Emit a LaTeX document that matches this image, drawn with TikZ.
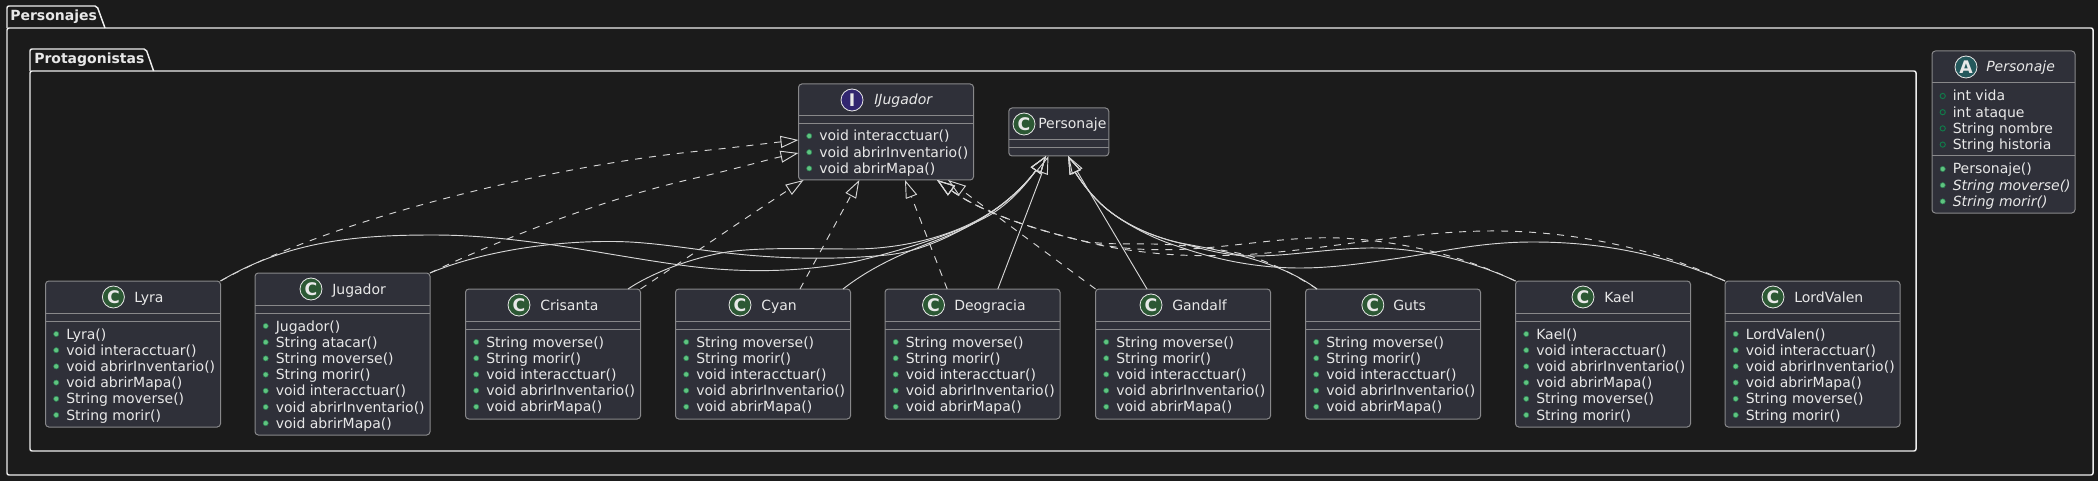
\documentclass[tikz,border=0pt]{standalone}
\usepackage{fontspec}
\setmainfont{DejaVu Sans}
\usetikzlibrary{arrows.meta}
\definecolor{bgcol}{RGB}{27, 27, 27}
\definecolor{boxcol}{RGB}{47, 48, 57}
\definecolor{boxline}{RGB}{136, 136, 138}
\definecolor{pkgline}{RGB}{238, 238, 238}
\definecolor{edgecol}{RGB}{214, 214, 214}
\definecolor{textcol}{RGB}{232, 232, 232}
\definecolor{pubcol}{RGB}{96, 196, 128}
\definecolor{pubedge}{RGB}{44, 128, 84}
\definecolor{attredge}{RGB}{16, 124, 74}
\definecolor{classpot}{RGB}{44, 88, 52}
\definecolor{ifacepot}{RGB}{50, 38, 112}
\definecolor{abstrpot}{RGB}{36, 88, 92}

\newcommand{\memberrows}[5][pubdot]{%
  \foreach \rowtext [count=\rownum from 0] in {#5} {
    \node[memberrow] (#2-row\rownum) at (#3+20.5, #4+5+\rownum*16.2) {\rowtext};
    \path[#1] (#3+10.7, #4+\rownum*16.2) circle (2.6);
  }}

\begin{document}
\begin{tikzpicture}[
    x=0.75pt, y=-0.75pt,
    font=\fontsize{10.5}{12}\selectfont,
    every node/.style={text=textcol},
    pkgbox/.style={draw=pkgline, line width=1.1pt, rounded corners=1.5pt, inner sep=0pt, outer sep=0pt},
    pkgtab/.style={draw=pkgline, line width=1.1pt, rounded corners=1.5pt},
    pkglabel/.style={anchor=base west, inner sep=0pt, font=\fontsize{10.5}{12}\selectfont\bfseries},
    classbox/.style={draw=boxline, fill=boxcol, line width=0.75pt, rounded corners=2.5pt, inner sep=0pt, outer sep=0pt, minimum width=131.25pt},
    classline/.style={draw=boxline, line width=0.75pt},
    classtitle/.style={anchor=base west, inner sep=0pt},
    spot/.style={circle, draw=textcol, line width=0.6pt, minimum size=16.5pt, inner sep=0pt, font=\fontsize{13}{13}\selectfont\bfseries},
    memberrow/.style={anchor=base west, inner sep=0pt},
    pubdot/.style={fill=pubcol, draw=pubedge, line width=0.4pt},
    attrdot/.style={draw=attredge, line width=0.7pt},
    extends/.style={draw=edgecol, line width=0.7pt, -{Triangle[open, length=13.5pt, width=9pt]}},
    implements/.style={extends, dash pattern=on 5.25pt off 5.25pt}
]

% Background and picture size
\fill[bgcol] (0,0) rectangle (2098,481);
\useasboundingbox (0,0) rectangle (2098,481);

% Packages
\node[pkgbox, minimum width=1564.5pt, minimum height=335.25pt] (personajes) at (1050,251.5) {};
\draw[pkgtab] (personajes.north west) -- (7,6) -- (97,6) -- (105,28);
\node[pkglabel] (personajeslabel) at (10,21) {Personajes};

\node[pkgbox, minimum width=1414.5pt, minimum height=285pt] (protagonistas) at (973,261) {};
\draw[pkgtab] (protagonistas.north west) -- (30,49) -- (146,49) -- (153.6,71);
\node[pkglabel] (protagonistaslabel) at (34,64) {Protagonistas};

% Abstract class on the right
\node[classbox, minimum width=107.25pt, minimum height=121.5pt] (abstracto) at (2003.5,132) {};
\node[spot, fill=abstrpot] (abstractospot) at (1966,67) {A};
\node[classtitle] (abstractotitle) at (1986,72) {\itshape Personaje};
\draw[classline] ([yshift=-24pt]abstracto.north west) -- ([yshift=-24pt]abstracto.north east);
\draw[classline] ([yshift=-78.75pt]abstracto.north west) -- ([yshift=-78.75pt]abstracto.north east);
\memberrows[attrdot]{abstractoattr}{1932}{96}{int vida,int ataque,String nombre,String historia}
\memberrows{abstractometh}{1932}{169}{Personaje(),\itshape String moverse(),\itshape String morir()}

% Interface and parent class
\node[classbox, minimum height=72pt] (ijugador) at (886,132) {};
\node[spot, fill=ifacepot] (ijugadorspot) at (852,100) {I};
\node[classtitle] (ijugadortitle) at (874,105) {\itshape IJugador};
\memberrows{ijugador}{798.5}{136}{void interacctuar(),void abrirInventario(),void abrirMapa()}

\node[classbox, minimum width=75pt, minimum height=36pt] (personaje) at (1058.75,132) {};
\node[spot, fill=classpot] (personajespot) at (1024,124) {C};
\node[classtitle] (personajetitle) at (1038,129) {Personaje};

% Classes along the bottom
\node[classbox, minimum height=109.5pt] (lyra) at (133,354) {};
\node[spot, fill=classpot] (lyraspot) at (113.4,297) {C};
\node[classtitle] (lyratitle) at (134,302) {Lyra};
\memberrows{lyra}{45.5}{334}{Lyra(),void interacctuar(),void abrirInventario(),void abrirMapa(),String moverse(),String morir()}

\node[classbox, minimum height=121.5pt] (jugador) at (342.5,354) {};
\node[spot, fill=classpot] (jugadorspot) at (311,289) {C};
\node[classtitle] (jugadortitle) at (332,294) {Jugador};
\memberrows{jugador}{255}{326}{Jugador(),String atacar(),String moverse(),String morir(),void interacctuar(),void abrirInventario(),void abrirMapa()}

\node[classbox, minimum height=97.5pt] (crisanta) at (553,354) {};
\node[spot, fill=classpot] (crisantaspot) at (519,305) {C};
\node[classtitle] (crisantatitle) at (540,310) {Crisanta};
\memberrows{crisanta}{465.5}{342}{String moverse(),String morir(),void interacctuar(),void abrirInventario(),void abrirMapa()}

\node[classbox, minimum height=97.5pt] (cyan) at (763,354) {};
\node[spot, fill=classpot] (cyanspot) at (740,305) {C};
\node[classtitle] (cyantitle) at (761,310) {Cyan};
\memberrows{cyan}{675.5}{342}{String moverse(),String morir(),void interacctuar(),void abrirInventario(),void abrirMapa()}

\node[classbox, minimum height=97.5pt] (deogracia) at (972.5,354) {};
\node[spot, fill=classpot] (deograciaspot) at (933.5,305) {C};
\node[classtitle] (deograciatitle) at (954,310) {Deogracia};
\memberrows{deogracia}{885}{342}{String moverse(),String morir(),void interacctuar(),void abrirInventario(),void abrirMapa()}

\node[classbox, minimum height=97.5pt] (gandalf) at (1183,354) {};
\node[spot, fill=classpot] (gandalfspot) at (1151,305) {C};
\node[classtitle] (gandalftitle) at (1172,310) {Gandalf};
\memberrows{gandalf}{1095.5}{342}{String moverse(),String morir(),void interacctuar(),void abrirInventario(),void abrirMapa()}

\node[classbox, minimum height=97.5pt] (guts) at (1393,354) {};
\node[spot, fill=classpot] (gutsspot) at (1372.8,305) {C};
\node[classtitle] (gutstitle) at (1393,310) {Guts};
\memberrows{guts}{1305.5}{342}{String moverse(),String morir(),void interacctuar(),void abrirInventario(),void abrirMapa()}

\node[classbox, minimum height=109.5pt] (kael) at (1603,354) {};
\node[spot, fill=classpot] (kaelspot) at (1583,297) {C};
\node[classtitle] (kaeltitle) at (1604,302) {Kael};
\memberrows{kael}{1515.5}{334}{Kael(),void interacctuar(),void abrirInventario(),void abrirMapa(),String moverse(),String morir()}

\node[classbox, minimum height=109.5pt] (lordvalen) at (1812.5,354) {};
\node[spot, fill=classpot] (lordvalenspot) at (1773,297) {C};
\node[classtitle] (lordvalentitle) at (1794,302) {LordValen};
\memberrows{lordvalen}{1725}{334}{LordValen(),void interacctuar(),void abrirInventario(),void abrirMapa(),String moverse(),String morir()}

% Compartment lines
\foreach \boxname in {ijugador,personaje,lyra,jugador,crisanta,cyan,deogracia,gandalf,guts,kael,lordvalen} {
  \draw[classline] ([yshift=-24pt]\boxname.north west) -- ([yshift=-24pt]\boxname.north east);
  \draw[classline] ([yshift=-30pt]\boxname.north west) -- ([yshift=-30pt]\boxname.north east);
}

% Dashed edges into the interface
\draw[implements] (lyra.north east) .. controls (340,215) and (560,165) .. (700,151)
  .. controls (735,147.5) and (770,143) .. ([yshift=-6pt]ijugador.west);
\draw[implements] (jugador.north east) .. controls (510,235) and (610,197) .. (700,177)
  .. controls (735,169) and (770,159) .. ([yshift=-15.75pt]ijugador.west);
\draw[implements] (crisanta.north east) .. controls (690,256) and (750,215) .. ([xshift=-61.8pt]ijugador.south);
\draw[implements] ([xshift=27.75pt]cyan.north) -- ([xshift=-20pt]ijugador.south);
\draw[implements] ([xshift=-19pt]deogracia.north) -- ([xshift=14.25pt]ijugador.south);
\draw[implements] (gandalf.north west) -- ([xshift=46.5pt]ijugador.south);
\draw[implements] ([xshift=-57pt]guts.north) .. controls (1295,275) and (1275,264) .. (1247,255)
  .. controls (1220,249) and (1190,245) .. (1153,244)
  .. controls (1130,243.5) and (1105,245) .. (1083,241)
  .. controls (1045,232) and (985,215) .. ([xshift=38.25pt]ijugador.south);
\draw[implements] (kael.north west) .. controls (1480,264) and (1420,242) .. (1340,238)
  .. controls (1290,236) and (1240,246) .. (1190,249)
  .. controls (1150,251) and (1115,249) .. (1083,241)
  .. controls (1045,232) and (985,215) .. ([xshift=38.25pt]ijugador.south);
\draw[implements] (lordvalen.north west) .. controls (1670,255) and (1590,232) .. (1500,231)
  .. controls (1420,230) and (1340,247) .. (1267,253)
  .. controls (1235,256) and (1190,257) .. (1153,253)
  .. controls (1125,250) and (1105,247) .. (1083,241)
  .. controls (1045,232) and (985,215) .. ([xshift=38.25pt]ijugador.south);

% Solid edges into the parent class
\draw[extends] (lyra.north east) .. controls (290,240) and (360,235) .. (433,235)
  .. controls (520,235) and (600,254) .. (680,265)
  .. controls (730,272) and (790,274) .. (853,262)
  .. controls (905,250) and (960,232) .. (990,215)
  .. controls (1015,200) and (1032,176) .. ([xshift=-9.5pt]personaje.south);
\draw[extends] (jugador.north east) .. controls (480,252) and (550,241) .. (612,241.5)
  .. controls (650,241.5) and (690,249) .. (727,253)
  .. controls (780,259) and (835,260) .. (887,255)
  .. controls (925,251) and (960,232) .. (990,213)
  .. controls (1015,197) and (1032,176) .. ([xshift=-9.5pt]personaje.south);
\draw[extends] ([xshift=56.25pt]crisanta.north) .. controls (650,274) and (690,258) .. (727,252)
  .. controls (760,247) and (810,249) .. (853,249)
  .. controls (905,249) and (955,235) .. (988,214)
  .. controls (1015,197) and (1032,176) .. ([xshift=-9.5pt]personaje.south);
\draw[extends] ([xshift=60pt]cyan.north) .. controls (865,272) and (890,258) .. (937,240)
  .. controls (960,231) and (975,224) .. (990,213)
  .. controls (1015,197) and (1032,176) .. ([xshift=-9.5pt]personaje.south);
\draw[extends] ([xshift=19pt]deogracia.north) -- ([xshift=-7.7pt]personaje.south);
\draw[extends] ([xshift=-27pt]gandalf.north) -- ([xshift=7pt]personaje.south);
\draw[extends] ([xshift=-57pt]guts.north) .. controls (1280,262) and (1230,252) .. (1180,243)
  .. controls (1145,235) and (1115,219) .. (1097,200)
  .. controls (1085,188) and (1075,172) .. ([xshift=7pt]personaje.south);
\draw[extends] (kael.north west) .. controls (1475,262) and (1420,247) .. (1367,248)
  .. controls (1325,249) and (1290,256) .. (1253,256)
  .. controls (1225,256) and (1200,248) .. (1180,243)
  .. controls (1145,235) and (1115,219) .. (1097,200)
  .. controls (1085,188) and (1075,172) .. ([xshift=7pt]personaje.south);
\draw[extends] (lordvalen.north west) .. controls (1680,262) and (1620,242) .. (1533,242)
  .. controls (1480,242) and (1440,252) .. (1400,258)
  .. controls (1360,264) and (1330,268) .. (1300,268)
  .. controls (1260,268) and (1220,261) .. (1180,247)
  .. controls (1150,238) and (1115,219) .. (1097,200)
  .. controls (1085,188) and (1075,172) .. ([xshift=7pt]personaje.south);

\end{tikzpicture}
\end{document}
